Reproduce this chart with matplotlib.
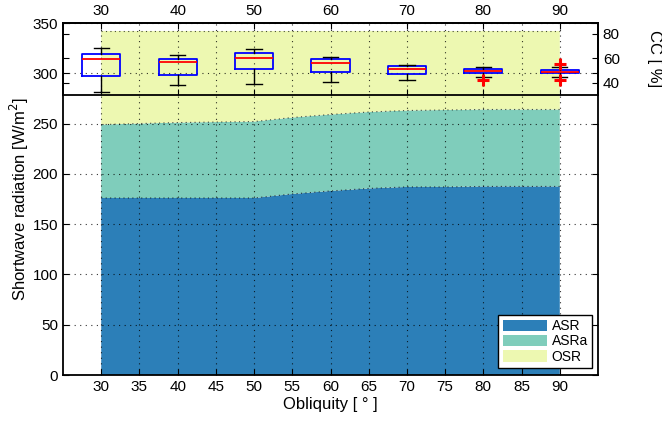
import matplotlib
matplotlib.use("Agg")
import matplotlib.pyplot as plt
import numpy as np

plt.rcParams['font.family'] = ['Liberation Sans', 'DejaVu Sans']

# ---- data ----
obliquity = [30, 35, 40, 45, 50, 55, 60, 65, 70, 75, 80, 85, 90]
asr = [176, 176, 176, 176, 176, 180, 183, 185.5, 187, 187, 187.5, 187.5, 187.5]
asr_plus_asra = [249, 250, 251, 251.5, 252, 256, 259, 261.5, 263, 263.5, 264, 264, 264]
incoming = [342] * 13
asra = [t - a for t, a in zip(asr_plus_asra, asr)]
osr = [i - t for i, t in zip(incoming, asr_plus_asra)]

box_pos = [30, 40, 50, 60, 70, 80, 90]
cc_med = [59.8, 57.1, 60.4, 56.3, 51.2, 49.8, 49.2]
cc_q1 = [45.7, 46.5, 50.9, 49.2, 47.1, 48.4, 48.2]
cc_q3 = [63.4, 59.6, 64.7, 59.8, 53.9, 50.9, 50.4]
cc_wlo = [32.1, 38.1, 39.4, 40.8, 42.2, 44.7, 45.1]
cc_whi = [68.8, 62.9, 68.0, 61.2, 54.9, 53.1, 53.3]
cc_fliers = [[], [], [], [], [], [42.2], [55.7, 42.2]]

labels = ['ASR', 'ASRa', 'OSR']
colors = ['#2C7FB8', '#7FCDBB', '#EDF8B1']

# ---- figure ----
fig = plt.figure(figsize=(6.62, 4.23), dpi=100)
L, R = 63 / 662, 598 / 662
B, T = (423 - 375) / 423, (423 - 23) / 423
ax = fig.add_axes([L, B, R - L, T - B])

ax.stackplot(obliquity, asr, asra, osr, colors=colors, labels=labels, linewidth=0)
for yv in (asr, asr_plus_asra, incoming):
    ax.plot(obliquity, yv, linestyle=(0, (1, 3)), color='k', lw=0.8, alpha=0.7)

xmin, xmax = 25, 95
ax.set_xlim(xmin, xmax)
ax.set_ylim(0, 350)
ax.set_xticks(np.arange(30, 91, 5))
ax.set_yticks(np.arange(0, 351, 50))
ax.grid(True, linestyle=(0, (1, 4)), color='k', lw=0.8, alpha=0.8)
ax.set_axisbelow(False)
ax.tick_params(direction='in', top=False, right=True, labelsize=11, length=4)
for s in ax.spines.values():
    s.set_linewidth(1.3)
ax.set_xlabel('Obliquity [ ° ]', fontsize=12, labelpad=2)
ax.set_ylabel('Shortwave radiation [W/m$^2$]', fontsize=12, labelpad=1)

leg = ax.legend(loc='lower right', bbox_to_anchor=(0.9888, 0.02), borderaxespad=0,
                fancybox=False, edgecolor='k', framealpha=1, fontsize=10,
                handlelength=3.17, handleheight=0.86, borderpad=0.3, labelspacing=0.1,
                handletextpad=0.36)
leg.get_frame().set_linewidth(1.0)

# ---- inset boxplot ----
B2 = (423 - 95) / 423
ax2 = fig.add_axes([L, B2, R - L, T - B2])
ax2.patch.set_alpha(0)
stats = []
for i in range(len(box_pos)):
    stats.append(dict(med=cc_med[i], q1=cc_q1[i], q3=cc_q3[i],
                      whislo=cc_wlo[i], whishi=cc_whi[i], fliers=cc_fliers[i]))
ax2.bxp(stats, positions=box_pos, widths=5, capwidths=2, manage_ticks=False,
        boxprops=dict(color='blue', lw=1.3),
        medianprops=dict(color='red', lw=1.3),
        whiskerprops=dict(color='k', lw=1.0),
        capprops=dict(color='k', lw=1.0),
        flierprops=dict(marker='+', markeredgecolor='red', markersize=9, markeredgewidth=2.2))
ax2.set_xlim(xmin, xmax)
ax2.set_ylim(30, 89)
ax2.set_xticks(box_pos)
ax2.set_yticks([40, 60, 80])
ax2.tick_params(axis='x', direction='in', top=True, bottom=True, labeltop=True,
                labelbottom=False, labelsize=11, length=4)
ax2.tick_params(axis='y', direction='in', left=True, right=True, labelleft=False,
                labelright=True, labelsize=11, length=4)
for s in ax2.spines.values():
    s.set_linewidth(1.3)
ax2.yaxis.set_label_position('right')
ax2.set_ylabel('CC [ %]', fontsize=12, rotation=270, labelpad=30)

fig.savefig('out.png', dpi=100)
